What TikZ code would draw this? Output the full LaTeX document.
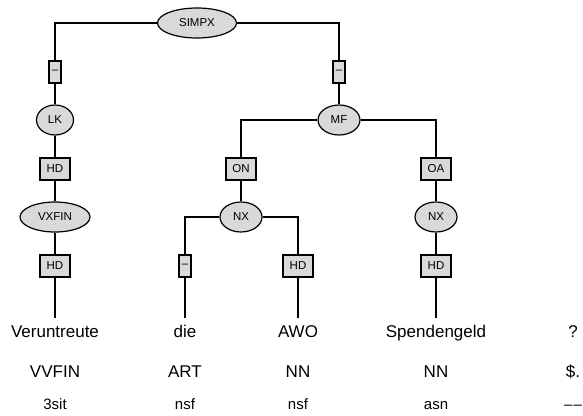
\documentclass[tikz,border=0pt]{standalone}
\usepackage{fontspec}
\setmainfont{Liberation Sans}
\usepackage{tikz}
\usetikzlibrary{shapes.geometric}
\usepackage{xcolor}
\definecolor{catgray}{HTML}{D9D9D9}
\newcommand{\lblfont}{\fontsize{11.5}{13}\selectfont}
\newcommand{\wordfont}{\fontsize{17}{20}\selectfont}
\newcommand{\morphfont}{\fontsize{15}{18}\selectfont}

\begin{document}
\begin{tikzpicture}[x=1pt, y=-1pt, line width=1.2pt,
  cat/.style={ellipse, draw, fill=catgray, inner sep=0pt, line width=1.2pt,
    minimum height=30pt, font=\lblfont},
  fn/.style={rectangle, draw, fill=catgray, inner sep=0pt, line width=1.5pt,
    minimum width=30pt, minimum height=22pt, font=\lblfont},
  dashfn/.style={fn, minimum width=12pt},
  tok/.style={anchor=base, inner sep=6pt, text height=12pt, text depth=4pt, font=\wordfont},
  tag/.style={anchor=base, inner sep=0pt, font=\wordfont},
  morph/.style={anchor=base, inner sep=0pt, font=\morphfont}]
\useasboundingbox (0,0) rectangle (583,415);
% tree nodes
\node[cat, minimum width=79pt] (simpx) at (197,23) {SIMPX};
\node[dashfn] (e1) at (55,72) {--};
\node[dashfn] (e2) at (339,72) {--};
\node[cat, minimum width=37pt] (lk) at (55,120) {LK};
\node[cat, minimum width=42pt] (mf) at (339,120) {MF};
\node[fn] (hd1) at (55,169) {HD};
\node[fn] (on) at (241,169) {ON};
\node[fn] (oa) at (436,169) {OA};
\node[cat, minimum width=70pt] (vxfin) at (55,217) {VXFIN};
\node[cat, minimum width=42pt] (nx1) at (241,217) {NX};
\node[cat, minimum width=42pt] (nx2) at (436,217) {NX};
\node[fn] (hd2) at (55,266) {HD};
\node[dashfn] (e3) at (185,266) {--};
\node[fn] (hd3) at (298,266) {HD};
\node[fn] (hd4) at (436,266) {HD};
% tokens
\node[tok] (w1) at (55,337) {Veruntreute};
\node[tok] (w2) at (185,337) {die};
\node[tok] (w3) at (298,337) {AWO};
\node[tok] (w4) at (436,337) {Spendengeld};
\node[tok] (w5) at (573,337) {?};
\node[tag] (t1) at (55,377) {VVFIN};
\node[tag] (t2) at (185,377) {ART};
\node[tag] (t3) at (298,377) {NN};
\node[tag] (t4) at (436,377) {NN};
\node[tag] (t5) at (573,377) {\$.};
\node[morph] (m1) at (55,409) {3sit};
\node[morph] (m2) at (185,409) {nsf};
\node[morph] (m3) at (298,409) {nsf};
\node[morph] (m4) at (436,409) {asn};
\node[morph] (m5) at (573,409) {\textendash\kern1.2pt\textendash};
% edges
\draw (simpx) -| (e1);
\draw (simpx) -| (e2);
\draw (e1) -- (lk) -- (hd1) -- (vxfin) -- (hd2) -- (w1);
\draw (e2) -- (mf);
\draw (mf) -| (on);
\draw (mf) -| (oa);
\draw (on) -- (nx1);
\draw (nx1) -| (e3);
\draw (nx1) -| (hd3);
\draw (e3) -- (w2);
\draw (hd3) -- (w3);
\draw (oa) -- (nx2) -- (hd4) -- (w4);
\end{tikzpicture}
\end{document}
